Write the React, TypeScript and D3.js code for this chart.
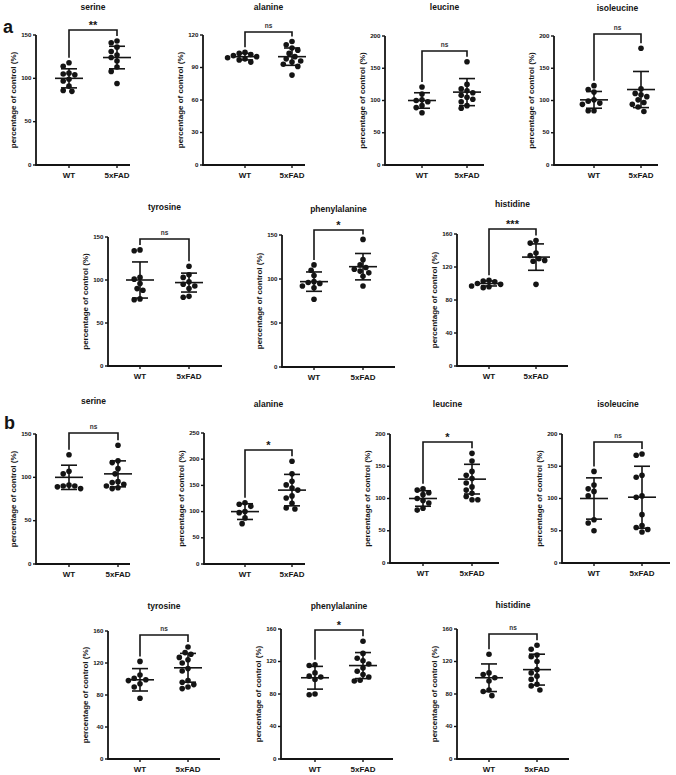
import React from "react";
import * as d3 from "d3";

const groups = ["WT", "5xFAD"];
const panelTitles = ["serine", "alanine", "leucine", "isoleucine", "tyrosine", "phenylalanine", "histidine",
  "serine", "alanine", "leucine", "isoleucine", "tyrosine", "phenylalanine", "histidine"];
const yMax = [150, 120, 200, 200, 150, 150, 160, 150, 250, 200, 200, 160, 160, 160];
const yStep = [50, 30, 50, 50, 50, 50, 40, 50, 50, 50, 50, 40, 40, 40];
const significance = ["**", "ns", "ns", "ns", "ns", "*", "***", "ns", "*", "*", "ns", "ns", "*", "ns"];

// panel a
const aSerineWT = [118, 114, 106, 105, 104, 99, 97, 91, 86, 85];
const aSerineFAD = [143, 141, 136, 131, 127, 124, 120, 113, 108, 94];
const aAlanineWT = [104, 103, 102, 101, 100, 99, 98, 97, 95];
const aAlanineFAD = [114, 111, 108, 106, 103, 100, 98, 96, 95, 93, 91, 83];
const aLeucineWT = [121, 110, 101, 100, 98, 92, 89, 81];
const aLeucineFAD = [160, 125, 118, 115, 112, 108, 105, 102, 98, 92, 88];
const aIsoleucineWT = [123, 117, 113, 101, 99, 96, 94, 84, 84];
const aIsoleucineFAD = [181, 118, 111, 109, 106, 101, 97, 94, 90, 83];
const aTyrosineWT = [135, 134, 103, 101, 96, 90, 88, 78, 77];
const aTyrosineFAD = [116, 106, 103, 98, 95, 93, 90, 81, 80];
const aPhenylalanineWT = [116, 110, 104, 97, 96, 95, 92, 90, 77];
const aPhenylalanineFAD = [145, 122, 116, 113, 111, 109, 107, 103, 92];
const aHistidineWT = [104, 103, 102, 100, 99, 97, 96, 95];
const aHistidineFAD = [152, 149, 137, 134, 130, 128, 127, 99];
// panel b
const bSerineWT = [126, 107, 104, 91, 90, 90, 89, 87];
const bSerineFAD = [137, 119, 117, 110, 104, 95, 94, 92, 90, 88, 87];
const bAlanineWT = [117, 114, 110, 100, 98, 88, 77];
const bAlanineFAD = [196, 172, 158, 151, 145, 141, 130, 126, 116, 107, 105];
const bLeucineWT = [115, 113, 109, 106, 100, 97, 93, 85, 82];
const bLeucineFAD = [170, 158, 142, 136, 131, 124, 118, 113, 108, 103, 98, 98];
const bIsoleucineWT = [142, 121, 115, 111, 104, 67, 62, 50];
const bIsoleucineFAD = [169, 167, 136, 133, 104, 102, 75, 58, 55, 52, 48];
const bTyrosineWT = [122, 105, 101, 99, 98, 94, 90, 76];
const bTyrosineFAD = [140, 133, 131, 127, 124, 120, 113, 110, 98, 96, 93, 90, 88];
const bPhenylalanineWT = [116, 115, 106, 102, 101, 98, 80, 79];
const bPhenylalanineFAD = [145, 130, 124, 121, 117, 112, 108, 104, 101, 97, 96];
const bHistidineWT = [129, 106, 104, 100, 96, 85, 83, 78];
const bHistidineFAD = [140, 135, 128, 126, 120, 110, 106, 102, 98, 92, 90, 85];

const meanWT = [100, 100, 100, 101, 100, 97, 100, 100, 100, 100, 100, 99, 100, 100];
const sdWT = [11, 3, 12, 13, 21, 11, 3, 14, 15, 12, 32, 14, 14, 17];
const meanFAD = [124, 100, 113, 117, 97, 114, 132, 104, 141, 130, 102, 114, 115, 110];
const sdFAD = [13, 8, 21, 28, 11, 15, 16, 15, 30, 23, 48, 18, 16, 19];

const valuesWT = [aSerineWT, aAlanineWT, aLeucineWT, aIsoleucineWT, aTyrosineWT, aPhenylalanineWT, aHistidineWT,
  bSerineWT, bAlanineWT, bLeucineWT, bIsoleucineWT, bTyrosineWT, bPhenylalanineWT, bHistidineWT];
const valuesFAD = [aSerineFAD, aAlanineFAD, aLeucineFAD, aIsoleucineFAD, aTyrosineFAD, aPhenylalanineFAD, aHistidineFAD,
  bSerineFAD, bAlanineFAD, bLeucineFAD, bIsoleucineFAD, bTyrosineFAD, bPhenylalanineFAD, bHistidineFAD];

// layout: axis x, WT x, 5xFAD x, axis end, y bottom, y top, bracket y, title y
const layout = [
  [36, 69, 117, 130, 165, 35, 30, 8],
  [203, 245, 292, 305, 165, 35, 32, 8],
  [385, 422, 467, 484, 165, 36, 51, 8],
  [554, 594, 641, 658, 165, 36, 34, 9],
  [108, 140, 189, 222, 366, 237, 239, 208],
  [282, 314, 363, 395, 367, 235, 230, 210],
  [457, 489, 536, 568, 366, 234, 229, 205],
  [36, 69, 118, 130, 564, 434, 433, 402],
  [204, 245, 292, 305, 564, 433, 450, 405],
  [390, 423, 472, 499, 563, 434, 442, 405],
  [562, 594, 642, 670, 563, 434, 442, 405],
  [108, 140, 188, 220, 759, 631, 635, 607],
  [281, 315, 363, 393, 759, 629, 630, 607],
  [457, 489, 537, 569, 759, 629, 634, 606],
];

const INK = "#141414";
const FONT = "'Liberation Sans', Arial, Helvetica, sans-serif";
const R = 2.8;

function swarm(vals: number[], y: (v: number) => number) {
  const placed: { dx: number; cy: number; v: number }[] = [];
  const sorted = [...vals].sort((a, b) => b - a);
  const d = 5.8;
  for (const v of sorted) {
    const cy = y(v);
    let chosen = 0;
    for (let k = 0; k < 20; k++) {
      const cands = k === 0 ? [0] : [-k * d * 0.5, k * d * 0.5];
      let found = false;
      for (const dx of cands) {
        if (placed.every((p) => Math.hypot(p.dx - dx, p.cy - cy) >= d)) {
          chosen = dx;
          found = true;
          break;
        }
      }
      if (found) break;
    }
    placed.push({ dx: chosen, cy, v });
  }
  return placed;
}

function Panel({ i }: { i: number }) {
  const [ax, wx, fx, xEnd, yB, yT, brY, titleY] = layout[i];
  const y = d3.scaleLinear().domain([0, yMax[i]]).range([yB, yT]);
  const x = d3.scalePoint<string>().domain(groups).range([wx, fx]);
  const ticks = d3.range(0, yMax[i] + 1e-9, yStep[i]);
  const sets = [valuesWT[i], valuesFAD[i]];
  const means = [meanWT[i], meanFAD[i]];
  const sds = [sdWT[i], sdFAD[i]];
  const mid = (wx + fx) / 2;
  const legBottom = sets.map((vals, g) => y(Math.max(d3.max(vals) as number, means[g] + sds[g])) - 5);
  const sig = significance[i];
  return (
    <g>
      <text x={mid} y={titleY} textAnchor="middle" dominantBaseline="middle" fontSize={8.5} fontWeight="bold" fill={INK}>
        {panelTitles[i]}
      </text>
      {/* y axis */}
      <line x1={ax} x2={ax} y1={y(yMax[i])} y2={yB} stroke={INK} strokeWidth={1.8} />
      {ticks.map((t) => (
        <g key={t}>
          <line x1={ax - 3} x2={ax} y1={y(t)} y2={y(t)} stroke={INK} strokeWidth={1.4} />
          <text x={ax - 4.5} y={y(t)} textAnchor="end" dominantBaseline="middle" fontSize={6.2} fontWeight="bold" fill={INK}>
            {t}
          </text>
        </g>
      ))}
      <text
        transform={`translate(${ax - 22},${(y(yMax[i]) + yB) / 2}) rotate(-90)`}
        textAnchor="middle"
        dominantBaseline="middle"
        fontSize={8}
        fontWeight="bold"
        fill={INK}
      >
        percentage of control (%)
      </text>
      {/* x axis */}
      <line x1={ax - 0.9} x2={xEnd} y1={yB} y2={yB} stroke={INK} strokeWidth={1.8} />
      {groups.map((g) => (
        <g key={g}>
          <line x1={x(g)} x2={x(g)} y1={yB} y2={yB + 3} stroke={INK} strokeWidth={1.4} />
          <text x={x(g)} y={yB + 10.5} textAnchor="middle" dominantBaseline="middle" fontSize={8} fontWeight="bold" fill={INK}>
            {g}
          </text>
        </g>
      ))}
      {/* bracket */}
      <path
        d={`M${wx},${legBottom[0]}V${brY}H${fx}V${legBottom[1]}`}
        fill="none"
        stroke={INK}
        strokeWidth={1.6}
      />
      <text
        x={mid}
        y={sig === "ns" ? brY - 4 : brY - 1}
        textAnchor="middle"
        fontSize={sig === "ns" ? 6.5 : 11}
        fontWeight="bold"
        fill={sig === "ns" ? "#333" : INK}
      >
        {sig}
      </text>
      {/* points */}
      {groups.map((g, gi) => {
        const cx = x(g) as number;
        const pts = swarm(sets[gi], y);
        return (
          <g key={g}>
            {pts.map((p, k) => (
              <circle key={k} cx={cx + p.dx} cy={p.cy} r={R} fill={INK} />
            ))}
          </g>
        );
      })}
      {/* mean and sd */}
      {groups.map((g, gi) => {
        const cx = x(g) as number;
        const m = means[gi];
        const s = sds[gi];
        return (
          <g key={g} stroke={INK} strokeWidth={1.6}>
            <line x1={cx} x2={cx} y1={y(m + s)} y2={y(m - s)} />
            <line x1={cx - 8} x2={cx + 8} y1={y(m + s)} y2={y(m + s)} />
            <line x1={cx - 8} x2={cx + 8} y1={y(m - s)} y2={y(m - s)} />
            <line x1={cx - 14} x2={cx + 14} y1={y(m)} y2={y(m)} />
          </g>
        );
      })}
    </g>
  );
}

export default function App() {
  return (
    <svg
      width={676}
      height={775}
      style={{ position: "absolute", left: 0, top: 0, background: "#fff" }}
      fontFamily={FONT}
    >
      <rect width={676} height={775} fill="#fff" />
      <text x={3} y={33} fontSize={18} fontWeight="bold" fill={INK}>a</text>
      <text x={4} y={429} fontSize={18} fontWeight="bold" fill={INK}>b</text>
      {layout.map((_, i) => (
        <Panel key={i} i={i} />
      ))}
    </svg>
  );
}
